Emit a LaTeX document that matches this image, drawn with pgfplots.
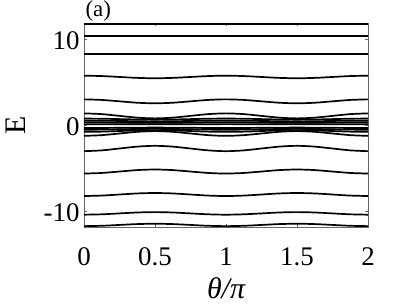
\documentclass[border=0pt]{standalone}
\usepackage{pgfplots}
\usepackage{pgfplotstable}
\pgfplotsset{compat=1.18}
\usepackage{fontspec}
\setmainfont{Liberation Serif}
\pgfplotstableread{
t L1 L2 L3 L4 L5 L6 B1 B2 B3 B4 B5 B6 B7 La Lb Lc Ld Le Lf
0     11.76 10.36 8.23 5.73  2.98  1.35  0.75  0.52  0.32  0.10  -0.35  -0.55  -0.80  -1.26  -3.04  -5.64  -8.25  -10.42  -11.75
0.125 11.76 10.36 8.23 5.686 2.913 1.265 0.731 0.505 0.31  0.094 -0.343 -0.535 -0.771 -1.179 -2.949 -5.571 -8.199 -10.376 -11.709
0.25  11.76 10.36 8.23 5.58  2.75  1.06  0.685 0.47  0.285 0.09  -0.325 -0.5   -0.7   -0.985 -2.73  -5.405 -8.075 -10.27  -11.61
0.375 11.76 10.36 8.23 5.474 2.587 0.855 0.639 0.435 0.26  0.086 -0.307 -0.465 -0.629 -0.791 -2.511 -5.239 -7.951 -10.164 -11.511
0.5   11.76 10.36 8.23 5.43  2.52  0.77  0.62  0.42  0.25  0.08  -0.3   -0.45  -0.6   -0.71  -2.42  -5.17  -7.9   -10.12  -11.47
0.625 11.76 10.36 8.23 5.474 2.587 0.855 0.639 0.435 0.26  0.086 -0.307 -0.465 -0.629 -0.791 -2.511 -5.239 -7.951 -10.164 -11.511
0.75  11.76 10.36 8.23 5.58  2.75  1.06  0.685 0.47  0.285 0.09  -0.325 -0.5   -0.7   -0.985 -2.73  -5.405 -8.075 -10.27  -11.61
0.875 11.76 10.36 8.23 5.686 2.913 1.265 0.731 0.505 0.31  0.094 -0.343 -0.535 -0.771 -1.179 -2.949 -5.571 -8.199 -10.376 -11.709
1     11.76 10.36 8.23 5.73  2.98  1.35  0.75  0.52  0.32  0.10  -0.35  -0.55  -0.80  -1.26  -3.04  -5.64  -8.25  -10.42  -11.75
1.125 11.76 10.36 8.23 5.686 2.913 1.265 0.731 0.505 0.31  0.094 -0.343 -0.535 -0.771 -1.179 -2.949 -5.571 -8.199 -10.376 -11.709
1.25  11.76 10.36 8.23 5.58  2.75  1.06  0.685 0.47  0.285 0.09  -0.325 -0.5   -0.7   -0.985 -2.73  -5.405 -8.075 -10.27  -11.61
1.375 11.76 10.36 8.23 5.474 2.587 0.855 0.639 0.435 0.26  0.086 -0.307 -0.465 -0.629 -0.791 -2.511 -5.239 -7.951 -10.164 -11.511
1.5   11.76 10.36 8.23 5.43  2.52  0.77  0.62  0.42  0.25  0.08  -0.3   -0.45  -0.6   -0.71  -2.42  -5.17  -7.9   -10.12  -11.47
1.625 11.76 10.36 8.23 5.474 2.587 0.855 0.639 0.435 0.26  0.086 -0.307 -0.465 -0.629 -0.791 -2.511 -5.239 -7.951 -10.164 -11.511
1.75  11.76 10.36 8.23 5.58  2.75  1.06  0.685 0.47  0.285 0.09  -0.325 -0.5   -0.7   -0.985 -2.73  -5.405 -8.075 -10.27  -11.61
1.875 11.76 10.36 8.23 5.686 2.913 1.265 0.731 0.505 0.31  0.094 -0.343 -0.535 -0.771 -1.179 -2.949 -5.571 -8.199 -10.376 -11.709
2     11.76 10.36 8.23 5.73  2.98  1.35  0.75  0.52  0.32  0.10  -0.35  -0.55  -0.80  -1.26  -3.04  -5.64  -8.25  -10.42  -11.75
}\data
\begin{document}
\begin{tikzpicture}[x=1bp,y=1bp]
\useasboundingbox (-84,-78) rectangle (323,227);
\begin{axis}[
  at={(0,0)}, anchor=south west,
  scale only axis, width=284bp, height=204bp,
  xmin=0, xmax=2, ymin=-11.85, ymax=11.85,
  xtick={0,0.5,1,1.5,2}, xticklabels={0,0.5,1,1.5,2},
  ytick={-10,0,10}, yticklabels={-10,0,10},
  tick align=inside, major tick length=3bp,
  tick style={black!60, line width=0.5bp},
  axis line style={black!60, line width=0.6bp},
  ticklabel style={font=\fontsize{27}{29}\selectfont},
  xticklabel style={yshift=-17bp},
  yticklabel style={xshift=-1bp, yshift=-2bp},
  xlabel={\itshape θ/π},
  ylabel={E},
  label style={font=\fontsize{30}{32}\selectfont},
  xlabel style={yshift=-5bp},
  ylabel style={yshift=11bp},
  title={(a)},
  title style={font=\fontsize{23}{25}\selectfont, at={(axis description cs:0,1)}, anchor=south west, yshift=-8bp, xshift=-2bp},
]
\pgfplotsinvokeforeach{1,...,19}{
  \addplot[black, line width=1.7bp, smooth, no markers] table[x index=0, y index=#1] {\data};
}
\end{axis}
\end{tikzpicture}
\end{document}
